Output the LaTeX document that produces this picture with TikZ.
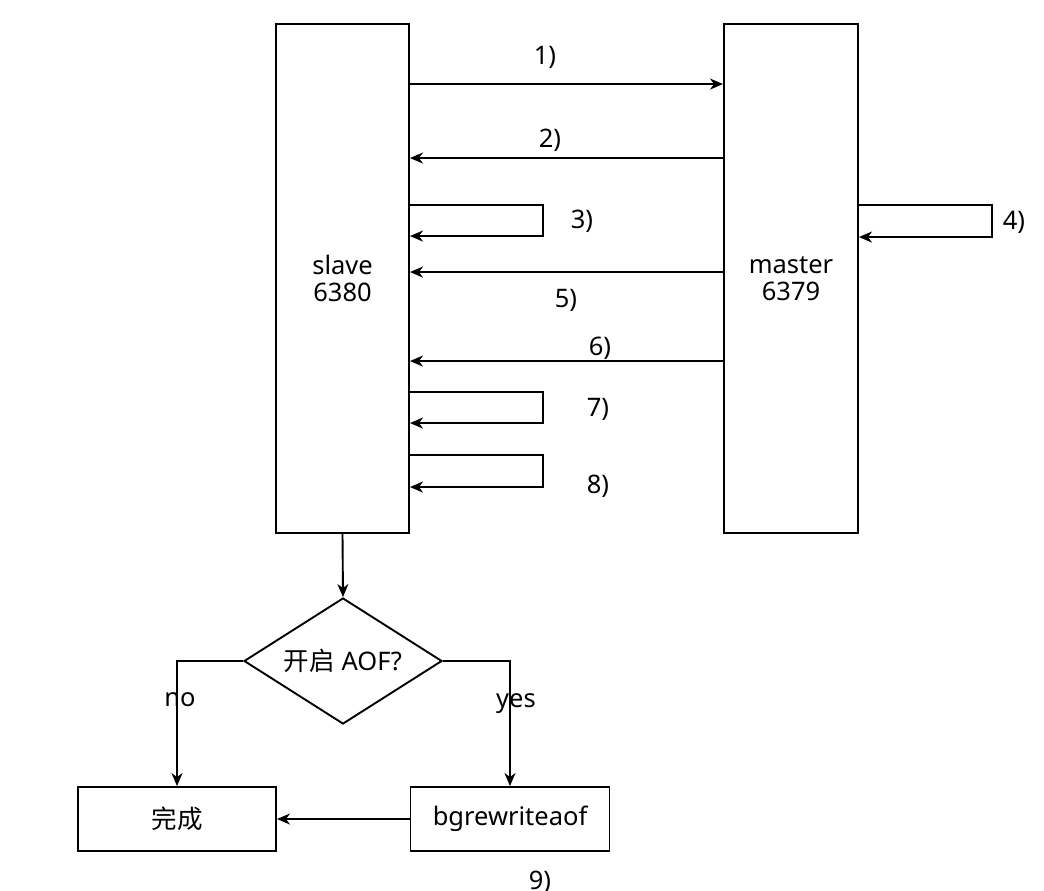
\documentclass[tikz,border=0pt]{standalone}
\usepackage{fontspec}
\setmainfont{Noto Sans}
\newfontfamily\cjk{Noto Sans CJK SC}
\usetikzlibrary{arrows.meta,shapes.geometric}
\tikzset{
  every node/.style={font=\fontsize{25.5}{28}\selectfont},
  box/.style={draw, line width=1.9pt, align=center, inner sep=0pt},
  decision/.style={draw, line width=1.9pt, shape=diamond, inner sep=0pt,
    minimum width=198pt, minimum height=126pt},
  arr/.style={line width=1.9pt, -{Stealth[length=13pt,width=11pt,inset=4pt]}},
  lbl/.style={inner sep=0pt}
}
\begin{document}
\begin{tikzpicture}[x=1pt,y=-1pt]
\useasboundingbox (0,0) rectangle (1044,891);

% the two servers
\node[box, minimum width=133pt, minimum height=509pt] (slave) at (342.5,278.5) {slave\\[-1pt]6380};
\node[box, minimum width=134pt, minimum height=509pt] (master) at (791,278.5) {master\\[-1pt]6379};

% 1) slave -> master
\draw[arr] ([yshift=-61pt]slave.north east) -- ([yshift=-61pt]master.north west);
\node[lbl] (l1) at (545,57) {1)};
% 2) master -> slave
\draw[arr] ([yshift=-135pt]master.north west) -- ([yshift=-135pt]slave.north east);
\node[lbl] (l2) at (550,140) {2)};
% 3) slave self loop
\draw[arr] ([yshift=-182pt]slave.north east) -- ++(133,0) -- ++(0,31) -- ([yshift=-213pt]slave.north east);
\node[lbl] (l3) at (582,221) {3)};
% 4) master self loop
\draw[arr] ([yshift=-182pt]master.north east) -- ++(133,0) -- ++(0,32) -- ([yshift=-214pt]master.north east);
\node[lbl] (l4) at (1014,222) {4)};
% 5) master -> slave
\draw[arr] ([yshift=-249pt]master.north west) -- ([yshift=-249pt]slave.north east);
\node[lbl] (l5) at (566,300) {5)};
% 6) master -> slave
\draw[arr] ([yshift=-338pt]master.north west) -- ([yshift=-338pt]slave.north east);
\node[lbl] (l6) at (600,348) {6)};
% 7) slave self loop
\draw[arr] ([yshift=-369pt]slave.north east) -- ++(133,0) -- ++(0,31) -- ([yshift=-400pt]slave.north east);
\node[lbl] (l7) at (598,409) {7)};
% 8) slave self loop
\draw[arr] ([yshift=-432pt]slave.north east) -- ++(133,0) -- ++(0,32) -- ([yshift=-464pt]slave.north east);
\node[lbl] (l8) at (598,486) {8)};

% AOF check: the diamond is drawn empty, its question set on top
\node[decision] (dec) at (343,661) {};
\node[lbl] (dectext) at (dec.center) {{\cjk 开启} AOF?};
\node[box, minimum width=198pt, minimum height=64pt] (done) at (177,819) {\cjk 完成};
\node[box, minimum width=199pt, minimum height=64pt] (bgr) at (510,819) {bgrewriteaof};

\draw[arr] (slave.south) -- (dec.north);
\draw[arr] (dec.west) -| (done.north);
\draw[arr] (dec.east) -| (bgr.north);
\draw[arr] (bgr.west) -- (done.east);
\node[lbl] (no) at (180,700) {no};
\node[lbl] (yes) at (516,704) {yes};
\node[lbl] (l9) at (540,882) {9)};
\end{tikzpicture}
\end{document}
